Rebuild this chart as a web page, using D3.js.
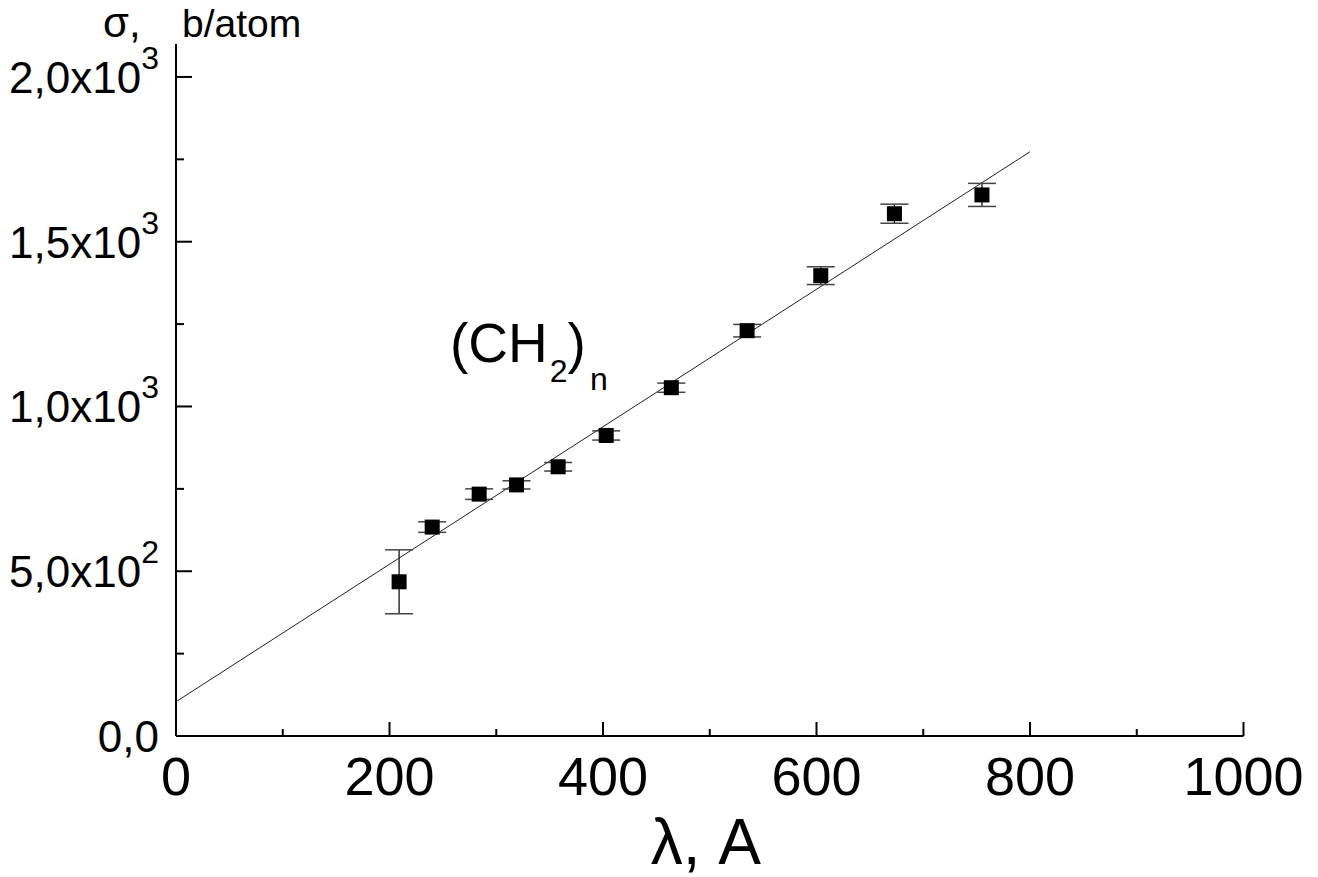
<!DOCTYPE html>
<html>
<head>
<meta charset="utf-8">
<script src="https://cdn.jsdelivr.net/npm/d3@7"></script>
<style>
  html, body { margin: 0; padding: 0; background: #fff; }
  svg { display: block; }
  text { font-family: "Liberation Sans", Arial, sans-serif; fill: #000; }
</style>
</head>
<body>
<svg id="chart" width="1318" height="877"></svg>
<script>
// Data
const wavelength = [209, 240, 284, 319, 358, 403, 464, 535, 604, 673, 755];
const sigma      = [468, 634, 734, 762, 817, 912, 1057, 1230, 1397, 1585, 1642];
const sigmaErr   = [97, 16, 16, 12.5, 13, 14, 14, 19, 27, 29, 35];
const fitX = [0, 800];
const fitY = [104, 1773];
const xTicks = [0, 200, 400, 600, 800, 1000];
const xMinorTicks = [100, 300, 500, 700, 900];
const yTicks = [0, 500, 1000, 1500, 2000];
const yMinorTicks = [250, 750, 1250, 1750];
const yTickMain = ["0,0", "5,0x10", "1,0x10", "1,5x10", "2,0x10"];
const yTickSup  = ["", "2", "3", "3", "3"];

const svg = d3.select("#chart");
const x = d3.scaleLinear().domain([0, 1000]).range([176, 1243.5]);
const y = d3.scaleLinear().domain([0, 2100]).range([736, 44]);

// Axes
const gx = svg.append("g").attr("transform", `translate(0,${y(0)})`);
gx.append("line").attr("x1", x(0)).attr("x2", x(1000)).attr("stroke", "#000").attr("stroke-width", 2);
gx.selectAll("line.maj").data(xTicks).join("line").attr("class", "maj")
  .attr("x1", d => x(d)).attr("x2", d => x(d)).attr("y1", 0).attr("y2", -14)
  .attr("stroke", "#000").attr("stroke-width", 2);
gx.selectAll("line.min").data(xMinorTicks).join("line").attr("class", "min")
  .attr("x1", d => x(d)).attr("x2", d => x(d)).attr("y1", 0).attr("y2", -7)
  .attr("stroke", "#000").attr("stroke-width", 2);
gx.selectAll("text").data(xTicks).join("text")
  .attr("x", d => x(d)).attr("y", 59)
  .attr("text-anchor", "middle").attr("font-size", 54)
  .text(d => d);

const gy = svg.append("g").attr("transform", `translate(${x(0)},0)`);
gy.append("line").attr("y1", y(0)).attr("y2", y(2100)).attr("stroke", "#000").attr("stroke-width", 2);
gy.selectAll("line.maj").data(yTicks).join("line").attr("class", "maj")
  .attr("y1", d => y(d)).attr("y2", d => y(d)).attr("x1", 0).attr("x2", 16)
  .attr("stroke", "#000").attr("stroke-width", 2);
gy.selectAll("line.min").data(yMinorTicks).join("line").attr("class", "min")
  .attr("y1", d => y(d)).attr("y2", d => y(d)).attr("x1", 0).attr("x2", 8)
  .attr("stroke", "#000").attr("stroke-width", 2);
const yt = gy.selectAll("text").data(yTicks).join("text")
  .attr("x", -17).attr("y", d => y(d) + 16)
  .attr("text-anchor", "end").attr("font-size", 44);
yt.append("tspan").text((d, i) => yTickMain[i]);
yt.append("tspan").attr("font-size", 32).attr("dy", -24).text((d, i) => yTickSup[i]);

// Fit line
svg.append("path")
  .datum(fitX.map((d, i) => [d, fitY[i]]))
  .attr("d", d3.line().x(d => x(d[0])).y(d => y(d[1])))
  .attr("fill", "none").attr("stroke", "#222").attr("stroke-width", 1);

// Error bars
const pts = wavelength.map((w, i) => ({w, s: sigma[i], e: sigmaErr[i]}));
const eb = svg.append("g");
eb.selectAll("line.v").data(pts).join("line").attr("class", "v")
  .attr("x1", d => x(d.w)).attr("x2", d => x(d.w))
  .attr("y1", d => y(d.s + d.e)).attr("y2", d => y(d.s - d.e))
  .attr("stroke", "#000").attr("stroke-width", 1.2);
["top", "bot"].forEach(k => {
  eb.selectAll("line." + k).data(pts).join("line").attr("class", k)
    .attr("x1", d => x(d.w) - 14).attr("x2", d => x(d.w) + 14)
    .attr("y1", d => y(k === "top" ? d.s + d.e : d.s - d.e))
    .attr("y2", d => y(k === "top" ? d.s + d.e : d.s - d.e))
    .attr("stroke", "#444").attr("stroke-width", 1.5);
});

// Markers
svg.append("g").selectAll("rect").data(pts).join("rect")
  .attr("x", d => x(d.w) - 7.5).attr("y", d => y(d.s) - 7.5)
  .attr("width", 15).attr("height", 15).attr("fill", "#000");

// Annotation (CH2)n
const ann = svg.append("text").attr("x", 450).attr("y", 362).attr("font-size", 55);
ann.append("tspan").text("(CH");
ann.append("tspan").attr("font-size", 32).attr("dy", 20).attr("dx", 2).text("2");
ann.append("tspan").attr("dy", -20).text(")");
ann.append("tspan").attr("font-size", 32).attr("dy", 28).attr("dx", 4).text("n");

// Axis titles
svg.append("text").attr("x", x(500) - 4).attr("y", 864).attr("text-anchor", "middle")
  .attr("font-size", 64).text("λ, A");
const yl = svg.append("text").attr("x", 103).attr("y", 37);
yl.append("tspan").attr("font-size", 42).text("σ,");
yl.append("tspan").attr("x", 182).attr("font-size", 39).text("b/atom");
</script>
</body>
</html>
